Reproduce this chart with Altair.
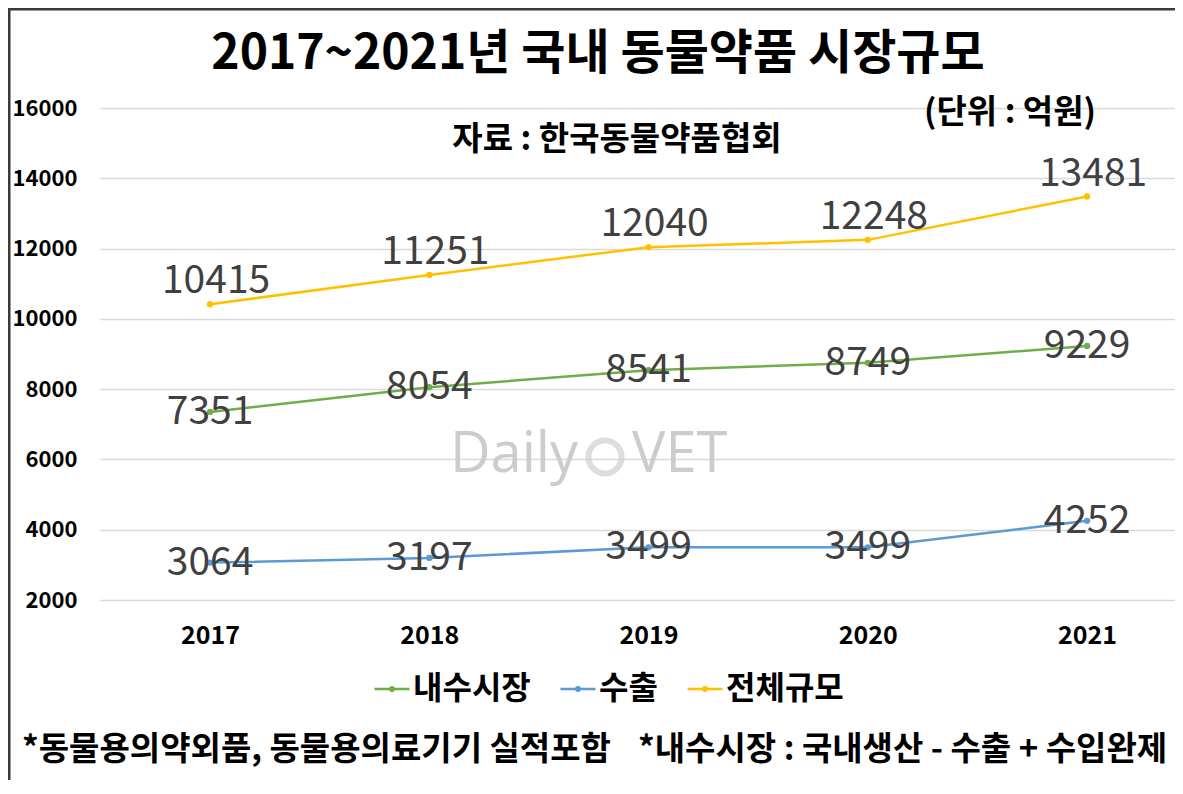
import altair as alt
import pandas as pd

years = [2017, 2018, 2019, 2020, 2021]
series_names = ["내수시장", "수출", "전체규모"]
domestic = [7351, 8054, 8541, 8749, 9229]
export = [3064, 3197, 3499, 3499, 4252]
total = [10415, 11251, 12040, 12248, 13481]
series_colors = ["#70AD47", "#5B9BD5", "#FFC000"]
y_ticks = [2000, 4000, 6000, 8000, 10000, 12000, 14000, 16000]

title_text = "2017~2021년 국내 동물약품 시장규모"
source_text = "자료 : 한국동물약품협회"
unit_text = "(단위 : 억원)"
note_text_1 = "*동물용의약외품, 동물용의료기기 실적포함"
note_text_2 = "*내수시장 : 국내생산 - 수출 + 수입완제"

FONT = "Noto Sans CJK KR"
W, H = 1075, 492

rows = []
for name, vals in zip(series_names, [domestic, export, total]):
    for yr, v in zip(years, vals):
        rows.append({"연도": yr, "계열": name, "값": v})
df = pd.DataFrame(rows)

xs = alt.Scale(domain=[2016.498, 2021.401], nice=False, zero=False)
ys = alt.Scale(domain=[2000, 16000], nice=False, zero=False)
cs = alt.Scale(domain=series_names, range=series_colors)

base = alt.Chart(df)

x_enc = alt.X("연도:Q", scale=xs, axis=alt.Axis(
    values=years, format="d", grid=False, domain=False, ticks=False,
    labelFont=FONT, labelFontSize=25, labelFontWeight="bold", labelColor="#000000",
    labelPadding=23, title=None))
y_enc = alt.Y("값:Q", scale=ys, axis=alt.Axis(
    values=y_ticks, format="d", grid=True, gridColor="#d9d9d9", gridWidth=1.5, domain=False, ticks=False,
    labelFont=FONT, labelFontSize=22, labelFontWeight="bold", labelColor="#000000",
    labelPadding=23, title=None))

legend_symbol = "M-1,0H1M-0.1,0A0.1,0.1,0,1,1,0.1,0A0.1,0.1,0,1,1,-0.1,0"

lines = base.mark_line(strokeWidth=2.5, point=alt.OverlayMarkDef(size=40, filled=True)).encode(
    x=x_enc, y=y_enc,
    color=alt.Color("계열:N", scale=cs, legend=alt.Legend(
        title=None, orient="none", legendX=273, legendY=562, direction="horizontal",
        labelFont=FONT, labelFontSize=32, labelFontWeight="bold", labelColor="#000000",
        symbolType=legend_symbol, symbolSize=1225, symbolStrokeWidth=2.5,
        labelOffset=2, columnPadding=24, labelLimit=300)),
)

label_near = base.transform_filter(alt.datum["계열"] != "전체규모").mark_text(
    font=FONT, fontSize=39, color="#404040", baseline="middle", align="center"
).encode(x=alt.X("연도:Q", scale=xs), y=alt.Y("값:Q", scale=ys), text=alt.Text("값:Q", format="d"))

label_top = base.transform_filter(alt.datum["계열"] == "전체규모").mark_text(
    font=FONT, fontSize=39, color="#404040", baseline="middle", align="center", dy=-23, dx=6
).encode(x=alt.X("연도:Q", scale=xs), y=alt.Y("값:Q", scale=ys), text=alt.Text("값:Q", format="d"))

one = pd.DataFrame({"k": [0]})

def txt(t, x, y, size, weight="bold", align="center", color="#000000", font=FONT):
    return alt.Chart(one).mark_text(
        text=t, font=font, fontSize=size, fontWeight=weight, align=align,
        baseline="middle", color=color
    ).encode(x=alt.value(x), y=alt.value(y))

title = txt(title_text, 498, -53, 48)
source = txt(source_text, 517, 32, 33)
unit = txt(unit_text, 910, 5, 33)
note1 = txt(note_text_1, -78, 642, 33, align="left")
note2 = txt(note_text_2, 538, 642, 33, align="left")
wm1 = txt("Daily", 478, 347, 56, weight="normal", align="right", color="#cccccc", font="Open Sans")
wm2 = txt("VET", 532, 347, 56, weight="normal", align="left", color="#cccccc", font="Open Sans")
wm_ring = alt.Chart(one).mark_point(shape="circle", filled=False, size=1100, strokeWidth=6,
                                    color="#d0d0d0").encode(x=alt.value(505), y=alt.value(349))

border_left = alt.Chart(one).mark_rule(color="#3a3a3a", strokeWidth=3).encode(
    x=alt.value(-91), y=alt.value(-99), y2=alt.value(680))
border_top = alt.Chart(one).mark_rule(color="#3a3a3a", strokeWidth=3).encode(
    x=alt.value(-92), x2=alt.value(W), y=alt.value(-99))

chart = alt.layer(
    wm1, wm2, wm_ring, lines, label_near, label_top, title, source, unit, note1, note2,
    border_left, border_top
).properties(
    width=W, height=H,
    autosize=alt.AutoSizeParams(type="none"),
    padding={"left": 92, "top": 100, "right": 0, "bottom": 180},
    background="#ffffff",
).configure_view(stroke=None)

chart.save("out.html", embed_options={"renderer": "svg", "actions": False})
